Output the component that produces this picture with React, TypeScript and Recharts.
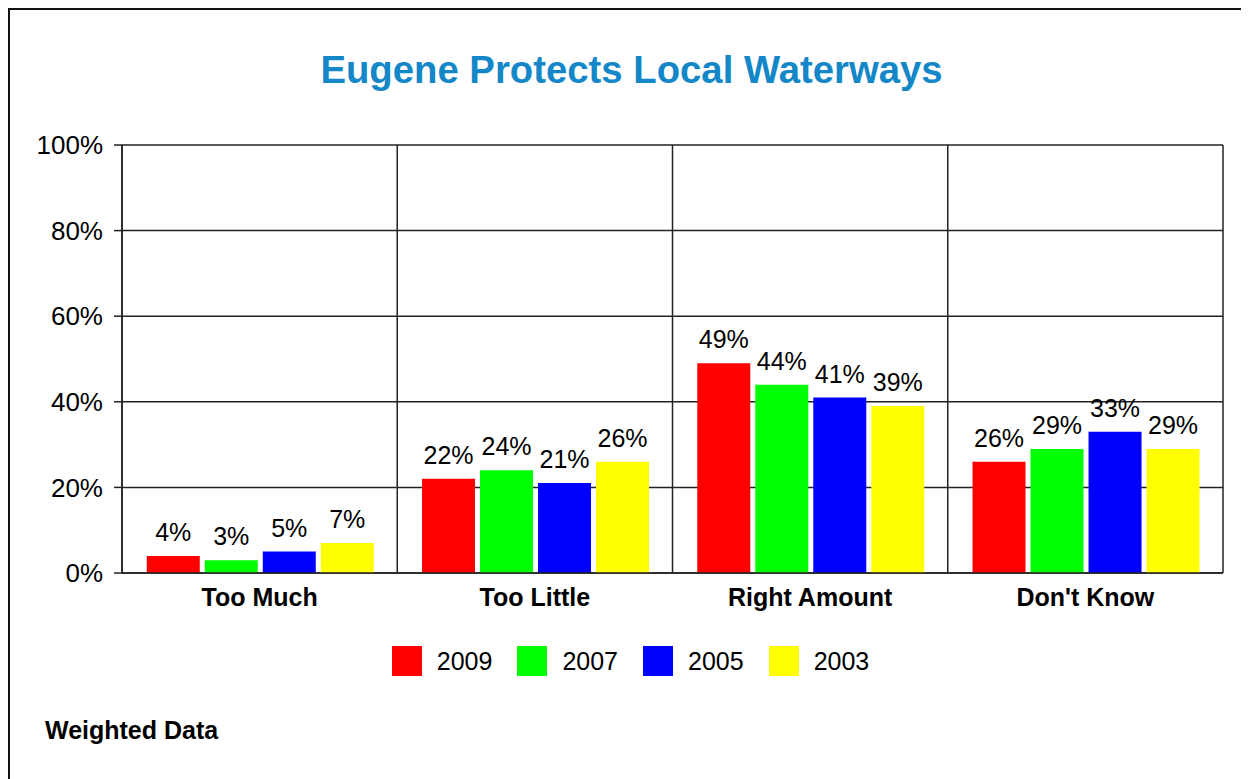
import React from 'react';
import { BarChart, Bar, XAxis, YAxis, CartesianGrid, Legend, LabelList } from 'recharts';

const categories = ['Too Much', 'Too Little', 'Right Amount', "Don't Know"];
const years = ['2009', '2007', '2005', '2003'];
const values2009 = [4, 22, 49, 26];
const values2007 = [3, 24, 44, 29];
const values2005 = [5, 21, 41, 33];
const values2003 = [7, 26, 39, 29];
const yTicks = [0, 20, 40, 60, 80, 100];

const seriesValues = [values2009, values2007, values2005, values2003];
const colors = ['#ff0000', '#00ff00', '#0000ff', '#ffff00'];

const data = categories.map((name, i) => {
    const row: Record<string, string | number> = { name };
    years.forEach((y, j) => { row[y] = seriesValues[j][i]; });
    return row;
});

const FONT = '"Liberation Sans", Arial, sans-serif';
const LINE = '#222';

function LegendContent({ payload }: any) {
    // keep the series order, not alphabetical
    const items = [...(payload || [])].sort((a: any, b: any) => years.indexOf(a.value) - years.indexOf(b.value));
    return (
        <div style={{ display: 'flex', justifyContent: 'center', alignItems: 'center', height: 40, paddingLeft: 28, fontFamily: FONT }}>
            {items.map((p: any, i: number) => (
                <div key={p.value} style={{ display: 'flex', alignItems: 'center', marginLeft: i === 0 ? 0 : 25 }}>
                    <div style={{ width: 30, height: 30, background: p.color }} />
                    <span style={{ marginLeft: 15, fontSize: 25, color: '#000' }}>{p.value}</span>
                </div>
            ))}
        </div>
    );
}

export default function App() {
    return (
        <div style={{ position: 'relative', width: 1241, height: 771, borderLeft: '2px solid #111', borderTop: '2px solid #111', boxSizing: 'border-box', background: '#fff', fontFamily: FONT }}>
            <div style={{ position: 'absolute', left: 0, top: 41, width: 1243, textAlign: 'center', fontSize: 38.3, lineHeight: '38px', fontWeight: 700, color: '#1487c8' }}>
                Eugene Protects Local Waterways
            </div>
            <BarChart
                width={1239}
                height={769}
                data={data}
                margin={{ top: 135, right: 26, bottom: 98, left: 0 }}
                barCategoryGap="9%"
                barGap={5}
            >
                <CartesianGrid
                    stroke={LINE}
                    strokeWidth={1.5}
                    verticalCoordinatesGenerator={({ offset }: any) =>
                        [0, 1, 2, 3, 4].map(i => offset.left + (i * offset.width) / categories.length)
                    }
                />
                <XAxis
                    dataKey="name"
                    height={68}
                    tickLine={false}
                    tickSize={0}
                    tickMargin={15}
                    axisLine={{ stroke: LINE, strokeWidth: 1.5 }}
                    tick={{ fontSize: 25, fontWeight: 700, fill: '#000', fontFamily: FONT }}
                />
                <YAxis
                    width={112}
                    domain={[0, 100]}
                    ticks={yTicks}
                    tickFormatter={(v: number) => `${v}%`}
                    tickSize={8}
                    tickMargin={11}
                    tickLine={{ stroke: LINE, strokeWidth: 1.5 }}
                    axisLine={{ stroke: LINE, strokeWidth: 1.5 }}
                    tick={{ fontSize: 26, fill: '#000', fontFamily: FONT }}
                />
                <Legend verticalAlign="bottom" content={<LegendContent />} />
                {years.map((y, j) => (
                    <Bar key={y} dataKey={y} fill={colors[j]} isAnimationActive={false}>
                        <LabelList
                            dataKey={y}
                            position="top"
                            offset={15}
                            formatter={(v: any) => `${v}%`}
                            style={{ fontSize: 25, fill: '#000', fontFamily: FONT }}
                        />
                    </Bar>
                ))}
            </BarChart>
            <div style={{ position: 'absolute', left: 35, top: 708, fontSize: 25, lineHeight: '25px', fontWeight: 700, color: '#000' }}>
                Weighted Data
            </div>
        </div>
    );
}
